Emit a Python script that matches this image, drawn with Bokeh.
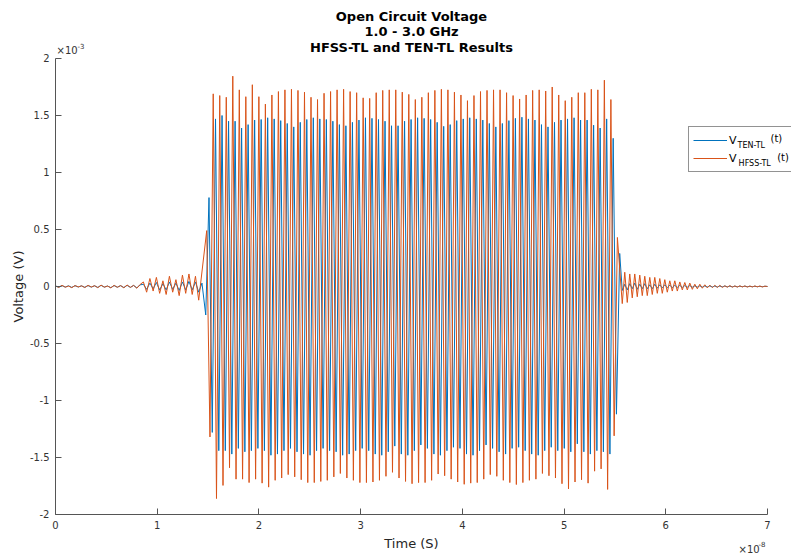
import numpy as np
from bokeh.plotting import figure
from bokeh.models import Label, FixedTicker, Legend, LegendItem, Range1d
from bokeh.embed import file_html
from bokeh.resources import INLINE

# Units: time in 1e-8 s, voltage in 1e-3 V
x_ticks = [0, 1, 2, 3, 4, 5, 6, 7]
x_tick_labels = ["0", "1", "2", "3", "4", "5", "6", "7"]
y_ticks = [-2, -1.5, -1, -0.5, 0, 0.5, 1, 1.5, 2]
y_tick_labels = ["-2", "-1.5", "-1", "-0.5", "0", "0.5", "1", "1.5", "2"]

cycle_period = 0.06409          # oscillation period (1e-8 s)

# ---- HFSS-TL (orange) ----
hfss_top_t0 = 1.48661           # time of first positive peak
hfss_tops = [0.49, 1.69, 1.675, 1.66, 1.845, 1.725, 1.665, 1.77, 1.665, 1.60, 1.68,
             1.71, 1.725, 1.73, 1.72, 1.705, 1.66, 1.64, 1.695, 1.71, 1.725,
             1.73, 1.71, 1.70, 1.655, 1.65, 1.70, 1.72, 1.725, 1.725, 1.705,
             1.685, 1.64, 1.66, 1.70, 1.72, 1.73, 1.725, 1.705, 1.68, 1.63,
             1.675, 1.71, 1.72, 1.725, 1.725, 1.70, 1.675, 1.645, 1.68, 1.72,
             1.725, 1.715, 1.75, 1.68, 1.63, 1.66, 1.70, 1.70, 1.73, 1.725,
             1.81, 1.64, 0.43]
hfss_bot_t0 = 1.51866           # time of first negative peak
hfss_bots = [-1.32, -1.86, -1.745, -1.59, -1.69, -1.69, -1.72, -1.69, -1.725, -1.76,
             -1.70, -1.68, -1.65, -1.67, -1.695, -1.72, -1.72, -1.71, -1.70, -1.67,
             -1.64, -1.68, -1.70, -1.72, -1.72, -1.715, -1.70, -1.665, -1.63, -1.68,
             -1.71, -1.73, -1.72, -1.72, -1.70, -1.645, -1.66, -1.69, -1.715, -1.735,
             -1.725, -1.72, -1.69, -1.65, -1.665, -1.70, -1.72, -1.737, -1.72, -1.70,
             -1.69, -1.64, -1.66, -1.68, -1.73, -1.775, -1.715, -1.695, -1.725, -1.62,
             -1.60, -1.78, -1.31]
hfss_pre_t0, hfss_pre_dt = 0.0, 0.032
hfss_pre = [0.005, -0.008, 0.01, -0.006, 0.004, -0.01, 0.008, -0.004, 0.006, -0.009,
            0.01, -0.005, 0.007, -0.01, 0.012, -0.006, 0.004, -0.012, 0.01, -0.007,
            0.008, -0.011, 0.013, -0.008, 0.01, -0.015, 0.018,
            0.04, -0.05, 0.07, -0.04, 0.08, -0.06, 0.05, -0.07, 0.09, -0.05, 0.06,
            -0.08, 0.10, -0.06, 0.11, -0.07, 0.09, -0.12]
hfss_post_t0, hfss_post_dt = 5.572, 0.0246
hfss_post = [-0.15, 0.125, -0.14, 0.11, -0.10, 0.11, -0.09, 0.10, -0.08, 0.09,
             -0.08, 0.08, -0.07, 0.08, -0.06, 0.07, -0.06, 0.06, -0.05, 0.05,
             -0.04, 0.05, -0.04, 0.04, -0.03, 0.035, -0.03, 0.03, -0.025, 0.02,
             -0.02, 0.02, -0.015, 0.015, -0.012, 0.012, -0.01, 0.01, -0.008, 0.01,
             -0.008, 0.006, -0.006, 0.008, -0.006, 0.005, -0.005, 0.006, -0.004, 0.005,
             -0.005, 0.004, -0.004, 0.005, -0.003, 0.004, -0.004, 0.003]

# ---- TEN-TL (blue) ----
ten_top_t0 = 1.50921
ten_tops = [0.78, 1.47, 1.50, 1.45, 1.45, 1.39, 1.42, 1.46, 1.465, 1.48, 1.47,
            1.455, 1.43, 1.40, 1.44, 1.465, 1.48, 1.47, 1.465, 1.45, 1.42,
            1.41, 1.44, 1.46, 1.48, 1.475, 1.465, 1.45, 1.41, 1.41, 1.45,
            1.465, 1.48, 1.475, 1.465, 1.44, 1.405, 1.42, 1.455, 1.47, 1.48,
            1.47, 1.46, 1.43, 1.40, 1.43, 1.455, 1.475, 1.485, 1.47, 1.46,
            1.42, 1.40, 1.44, 1.46, 1.47, 1.48, 1.46, 1.46, 1.415, 1.39,
            1.47, 1.30, 0.29]
ten_bot_t0 = 1.47717
ten_bots = [-0.25, -1.28, -1.44, -1.44, -1.47, -1.42, -1.45, -1.44, -1.42, -1.44,
            -1.48, -1.47, -1.44, -1.42, -1.45, -1.47, -1.48, -1.44, -1.42, -1.44,
            -1.45, -1.48, -1.47, -1.44, -1.42, -1.44, -1.47, -1.48, -1.45, -1.40,
            -1.47, -1.48, -1.44, -1.39, -1.42, -1.47, -1.48, -1.44, -1.41, -1.42,
            -1.47, -1.48, -1.44, -1.39, -1.42, -1.45, -1.47, -1.42, -1.41, -1.44,
            -1.47, -1.48, -1.44, -1.41, -1.44, -1.42, -1.45, -1.38, -1.45, -1.47,
            -1.44, -1.45, -1.47, -1.12]
ten_pre_t0, ten_pre_dt = 0.0, 0.032
ten_pre = [0.004, -0.006, 0.008, -0.005, 0.006, -0.008, 0.007, -0.004, 0.005, -0.007,
           0.008, -0.005, 0.006, -0.008, 0.01, -0.005, 0.004, -0.01, 0.008, -0.006,
           0.007, -0.009, 0.01, -0.007, 0.009, -0.012, 0.014,
           0.02, -0.025, 0.03, -0.02, 0.035, -0.03, 0.025, -0.03, 0.04, -0.025,
           0.03, -0.035, 0.04, -0.03, 0.045, -0.03, 0.04, -0.05, 0.03]
ten_post_t0, ten_post_dt = 5.572, 0.0246
ten_post = [-0.035, 0.02, -0.03, 0.025, -0.02, 0.03, -0.025, 0.02, -0.02, 0.025,
            -0.02, 0.015, -0.02, 0.02, -0.015, 0.015, -0.012, 0.015, -0.01, 0.012,
            -0.01, 0.01, -0.008, 0.01, -0.008, 0.008, -0.006, 0.008, -0.006, 0.006,
            -0.005, 0.006, -0.005, 0.005, -0.004, 0.005, -0.004, 0.004, -0.004, 0.004,
            -0.003, 0.004, -0.003, 0.003, -0.003, 0.003, -0.003, 0.003, -0.002, 0.003,
            -0.002, 0.002, -0.002, 0.002, -0.002, 0.002, -0.002, 0.002]


def build(pre, pre_t0, pre_dt, tops, top_t0, bots, bot_t0, post, post_t0, post_dt):
    t = np.concatenate([
        pre_t0 + pre_dt * np.arange(len(pre)),
        top_t0 + cycle_period * np.arange(len(tops)),
        bot_t0 + cycle_period * np.arange(len(bots)),
        post_t0 + post_dt * np.arange(len(post)),
    ])
    v = np.concatenate([pre, tops, bots, post]).astype(float)
    order = np.argsort(t)
    t, v = t[order], v[order]
    t = np.append(t, 7.0)
    v = np.append(v, 0.0)
    return t, v


ten_t, ten_v = build(ten_pre, ten_pre_t0, ten_pre_dt, ten_tops, ten_top_t0,
                     ten_bots, ten_bot_t0, ten_post, ten_post_t0, ten_post_dt)
hfss_t, hfss_v = build(hfss_pre, hfss_pre_t0, hfss_pre_dt, hfss_tops, hfss_top_t0,
                       hfss_bots, hfss_bot_t0, hfss_post, hfss_post_t0, hfss_post_dt)

BLUE = "#0072BD"
ORANGE = "#D95319"
FONT = "DejaVu Sans"

# The frame covers the whole canvas; axes sit at fixed data locations.
p = figure(width=791, height=555, title=None,
           x_range=Range1d(-0.54073, 7.23595), y_range=Range1d(-2.35965, 2.50877),
           output_backend="svg", toolbar_location=None,
           min_border_left=0, min_border_right=0, min_border_top=0,
           min_border_bottom=0)
p.outline_line_color = None
p.grid.visible = False
p.background_fill_color = "white"
p.border_fill_color = "white"

r_ten = p.line(ten_t, ten_v, line_color=BLUE, line_width=1)
r_hfss = p.line(hfss_t, hfss_v, line_color=ORANGE, line_width=1)

for ax in (p.xaxis[0], p.yaxis[0]):
    ax.axis_line_color = "#555555"
    ax.major_tick_line_color = "#555555"
    ax.major_tick_in = 6
    ax.major_tick_out = 0
    ax.minor_tick_line_color = None
    ax.major_label_text_font = FONT
    ax.major_label_text_font_size = "10px"
    ax.major_label_text_color = "#333333"

p.xaxis.fixed_location = -2
p.xaxis.bounds = (0, 7)
p.yaxis.fixed_location = 0
p.yaxis.bounds = (-2, 2)
p.xaxis.major_label_standoff = 7
p.yaxis.major_label_standoff = 6
p.xaxis.ticker = FixedTicker(ticks=x_ticks)
p.xaxis.major_label_overrides = {t: l for t, l in zip(x_ticks, x_tick_labels)}
p.yaxis.ticker = FixedTicker(ticks=y_ticks)
p.yaxis.major_label_overrides = {t: l for t, l in zip(y_ticks, y_tick_labels)}

# Axis titles
p.add_layout(Label(x=3.5, y=-2.254, text="Time (S)", text_align="center",
                   text_baseline="middle", text_font=FONT, text_font_size="13px",
                   text_color="#262626"))
p.add_layout(Label(x=-0.3638, y=0.0, text="Voltage (V)", text_align="center",
                   text_baseline="middle", angle=np.pi / 2, text_font=FONT,
                   text_font_size="13px", text_color="#262626"))

# Title (three centred bold lines)
for txt, yy in [("Open Circuit Voltage", 2.3684), ("1.0 - 3.0 GHz", 2.2325),
                ("HFSS-TL and TEN-TL Results", 2.0965)]:
    p.add_layout(Label(x=3.5, y=yy, text=txt, text_align="center",
                       text_baseline="middle", text_font=FONT,
                       text_font_size="13px", text_font_style="bold",
                       text_color="#000000"))

# Exponent markers
for txt, xx, yy, fs in [("\u00d710", 0.0098, 2.070, "10px"), ("-3", 0.2163, 2.114, "7px"),
                        ("\u00d710", 6.7149, -2.307, "10px"), ("-8", 6.9115, -2.263, "7px")]:
    p.add_layout(Label(x=xx, y=yy, text=txt, text_baseline="middle",
                       text_font=FONT, text_font_size=fs, text_color="#333333"))

# Legend (transparent box so the subscript labels show through)
legend = Legend(items=[LegendItem(label="V", renderers=[r_ten]),
                       LegendItem(label="V", renderers=[r_hfss])],
                location=(688, 383), orientation="vertical",
                glyph_width=34, glyph_height=18, label_height=18, spacing=0,
                padding=4, margin=0, label_standoff=2, label_width=60,
                label_text_font=FONT, label_text_font_size="11px",
                label_text_color="#000000", label_text_baseline="middle",
                border_line_color="#262626", border_line_width=1,
                background_fill_alpha=0.0)
p.add_layout(legend)
for txt, xx, yy, fs in [("TEN-TL", 6.706, 1.237, "8px"), ("(t)", 7.030, 1.298, "10px"),
                        ("HFSS-TL", 6.716, 1.079, "8px"), ("(t)", 7.095, 1.132, "10px")]:
    p.add_layout(Label(x=xx, y=yy, text=txt, text_baseline="middle",
                       text_font=FONT, text_font_size=fs, text_color="#000000"))

open("out.html", "w").write(file_html(p, INLINE))
